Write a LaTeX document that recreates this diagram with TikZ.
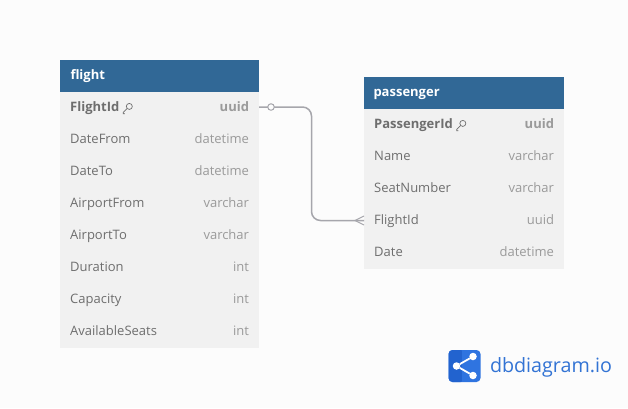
\documentclass[tikz,border=0pt]{standalone}
\usepackage{fontspec}
\setmainfont{Open Sans}
\usepackage{xcolor}
\usetikzlibrary{positioning,calc}
\definecolor{headblue}{HTML}{316896}
\definecolor{rowgray}{HTML}{F1F1F1}
\definecolor{paper}{HTML}{FCFCFC}
\definecolor{labgray}{HTML}{6E6E6E}
\definecolor{typegray}{HTML}{9A9A9A}
\definecolor{linkgray}{HTML}{A6A6AC}
\definecolor{logoblue}{HTML}{2F74E0}
\definecolor{logodark}{HTML}{2263CF}
\definecolor{wordblue}{HTML}{3273D4}

\begin{document}
\begin{tikzpicture}[x=1pt,y=-1pt,every node/.style={outer sep=0pt},
    tblhead/.style={fill=headblue,minimum height=32pt,anchor=north west,inner sep=0pt},
    tbltitle/.style={text=white,font=\fontsize{13}{15}\selectfont\bfseries,anchor=west,
    inner sep=0pt,text height=10pt,text depth=3pt},
    tblrow/.style={fill=rowgray,minimum height=32pt,inner sep=0pt},
    collab/.style={text=labgray,font=\fontsize{13}{15}\selectfont,anchor=west,inner sep=0pt,
    text height=10pt,text depth=3pt},
    coltype/.style={text=typegray,font=\fontsize{13}{15}\selectfont,anchor=east,inner sep=0pt,
    text height=10pt,text depth=3pt},
    link/.style={draw=linkgray,line width=1.5pt},
    keypic/.pic={\draw[labgray,line width=0.7pt] (10,-1.8) circle (3);
    \draw[labgray,line width=0.7pt] (7.9,0.3) -- (4,4.2) -- (4,5.6) -- (5.6,5.6);}]

    \useasboundingbox[fill=paper] (0,0) rectangle (628,408);

    % flight table
    \node[tblhead,minimum width=199pt] (flight0) at (60,60) {};
    \node[tbltitle] (flighttitle) at (70.5,76) {flight};
    \foreach \N/\T/\F [count=\X, remember=\X as \Y (initially 0)] in
    {FlightId/uuid/\bfseries,DateFrom/datetime/\mdseries,DateTo/datetime/\mdseries,
    AirportFrom/varchar/\mdseries,AirportTo/varchar/\mdseries,Duration/int/\mdseries,
    Capacity/int/\mdseries,AvailableSeats/int/\mdseries}
    {
        \node[tblrow,minimum width=199pt,below=0pt of flight\Y] (flight\X) {};
        \node[collab] (flightlab\X) at ($(flight\X.west)+(10.2,0.2)$) {\F\N};
        \node[coltype] (flighttype\X) at ($(flight\X.east)+(-10,0.2)$) {\F\T};
    }
    \pic at (flightlab1.east) {keypic};

    % passenger table
    \node[tblhead,minimum width=200pt] (passenger0) at (364,77) {};
    \node[tbltitle] (passengertitle) at (373.5,93) {passenger};
    \foreach \N/\T/\F [count=\X, remember=\X as \Y (initially 0)] in
    {PassengerId/uuid/\bfseries,Name/varchar/\mdseries,SeatNumber/varchar/\mdseries,
    FlightId/uuid/\mdseries,Date/datetime/\mdseries}
    {
        \node[tblrow,minimum width=200pt,below=0pt of passenger\Y] (passenger\X) {};
        \node[collab] (passengerlab\X) at ($(passenger\X.west)+(10.2,0.2)$) {\F\N};
        \node[coltype] (passengertype\X) at ($(passenger\X.east)+(-10,0.2)$) {\F\T};
    }
    \pic at (passengerlab1.east) {keypic};

    % connector
    \coordinate (linkstart) at ($(flight1.east)+(0,-1)$);
    \coordinate (linkend) at ($(passenger4.west)+(0,-0.5)$);
    \coordinate (turn) at ($(linkstart)!0.5!(linkend)$);
    \draw[link,rounded corners=9pt] (linkstart) -- (turn|-linkstart)
      -- (turn|-linkend) -- (linkend);
    \node[circle,draw=linkgray,fill=paper,line width=1pt,minimum size=6.5pt,inner sep=0pt]
      (onemark) at ($(linkstart)+(12,0)$) {};
    \coordinate (manytip) at ($(linkend)+(-9,0)$);
    \draw[link,line width=1pt] ([yshift=-4.5pt]linkend) -- (manytip)
      -- ([yshift=4.5pt]linkend);

    % logo
    \node[fill=logoblue,rounded corners=4pt,minimum size=32pt,inner sep=0pt] (logo) at (464.5,366) {};
    \fill[logodark,rounded corners=4pt] (logo.north west) rectangle (logo.south);
    \fill[logoblue] ($(logo.north)+(-3,0)$) rectangle (logo.south);
    \node[circle,fill=white,minimum size=7.5pt,inner sep=0pt] (share1) at (456.5,366) {};
    \node[circle,fill=white,minimum size=7.5pt,inner sep=0pt] (share2) at (473,356.5) {};
    \node[circle,fill=white,minimum size=7.5pt,inner sep=0pt] (share3) at (473,375.5) {};
    \draw[white,line width=1.8pt] (share2) -- (share1) -- (share3);
    \node[text=wordblue,font=\fontsize{19.7}{24}\selectfont,anchor=west,inner sep=0pt] (logoword)
      at (490,367) {dbdiagram.io};
\end{tikzpicture}
\end{document}
